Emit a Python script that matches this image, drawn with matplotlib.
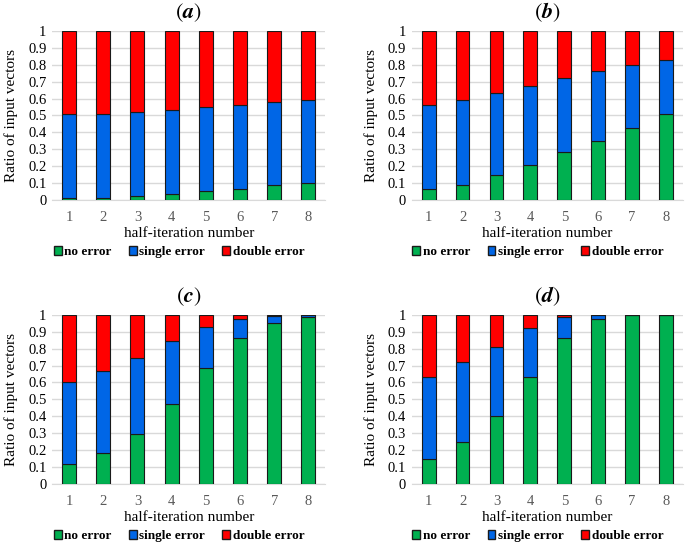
import numpy as np
import matplotlib.pyplot as plt
from matplotlib.patches import Patch

plt.rcParams['font.family'] = ['Liberation Serif', 'DejaVu Serif']
plt.rcParams['mathtext.fontset'] = 'stix'

iters = [1, 2, 3, 4, 5, 6, 7, 8]

# (a)
a_no = [0.01, 0.01, 0.02, 0.035, 0.055, 0.065, 0.09, 0.10]
a_cum = [0.51, 0.51, 0.52, 0.53, 0.55, 0.56, 0.58, 0.59]
# (b)
b_no = [0.065, 0.09, 0.145, 0.205, 0.285, 0.35, 0.425, 0.51]
b_cum = [0.56, 0.59, 0.63, 0.675, 0.72, 0.76, 0.80, 0.83]
# (c)
c_no = [0.115, 0.185, 0.295, 0.47, 0.685, 0.865, 0.955, 0.985]
c_cum = [0.605, 0.67, 0.745, 0.845, 0.93, 0.975, 0.993, 0.997]
# (d)
d_no = [0.145, 0.25, 0.40, 0.63, 0.865, 0.975, 0.998, 1.0]
d_cum = [0.635, 0.72, 0.81, 0.92, 0.985, 1.0, 1.0, 1.0]

panels = [("a", a_no, a_cum), ("b", b_no, b_cum), ("c", c_no, c_cum), ("d", d_no, d_cum)]

GREEN = "#00B050"
BLUE = "#0066E6"
RED = "#FF0000"
EDGE = "#1a1a1a"
TICKC = "#595959"

fig = plt.figure(figsize=(6.85, 5.43), dpi=100)

positions = [
    [0.076, 0.632, 0.399, 0.311],
    [0.601, 0.632, 0.396, 0.311],
    [0.076, 0.109, 0.399, 0.311],
    [0.601, 0.109, 0.396, 0.311],
]

for (tag, no, cum), pos in zip(panels, positions):
    ax = fig.add_axes(pos)
    no = np.array(no)
    cum = np.array(cum)
    single = cum - no
    double = 1 - cum
    x = np.array(iters)
    w = 0.41
    ax.bar(x, no, w, color=GREEN, edgecolor=EDGE, linewidth=0.8, zorder=3)
    ax.bar(x, single, w, bottom=no, color=BLUE, edgecolor=EDGE, linewidth=0.8, zorder=3)
    ax.bar(x, double, w, bottom=cum, color=RED, edgecolor=EDGE, linewidth=0.8, zorder=3)

    ax.set_xlim(0.5, 8.5)
    ax.set_ylim(0, 1)
    ax.set_yticks(np.arange(0, 1.01, 0.1))
    ax.set_yticklabels(["0", "0.1", "0.2", "0.3", "0.4", "0.5", "0.6", "0.7", "0.8", "0.9", "1"])
    ax.set_xticks(x)
    ax.grid(axis="y", color="#d9d9d9", linewidth=1.0, zorder=0)
    for s in ["top", "right", "left"]:
        ax.spines[s].set_visible(False)
    ax.spines["bottom"].set_color("#d9d9d9")
    ax.tick_params(axis="both", length=0, labelsize=10.5, colors=TICKC, pad=4)
    ax.tick_params(axis="y", labelcolor="black")
    ax.tick_params(axis="x", pad=8)
    ax.set_ylabel("Ratio of input vectors", fontsize=11, labelpad=7)
    ax.set_xlabel("half-iteration number", fontsize=11, labelpad=2)
    ax.set_title(r"$(\mathbfit{" + tag + r"})$", fontsize=16, pad=9)
    ax.set_axisbelow(True)

    handles = [Patch(facecolor=GREEN, edgecolor=EDGE, label="no error"),
               Patch(facecolor=BLUE, edgecolor=EDGE, label="single error"),
               Patch(facecolor=RED, edgecolor=EDGE, label="double error")]
    ax.legend(handles=handles, loc="center", bbox_to_anchor=(0.465, -0.31),
              ncol=3, frameon=False, handlelength=0.6, handleheight=0.6,
              handletextpad=0.2, columnspacing=1.3, borderpad=0.1,
              prop={"weight": "bold", "size": 9.5})

fig.savefig("out.png", dpi=100)
